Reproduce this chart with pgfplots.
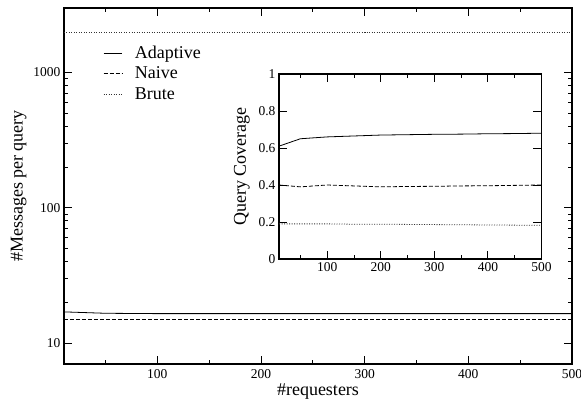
\documentclass[border=0pt]{standalone}
\usepackage{fontspec}
\setmainfont{Liberation Serif}
\usepackage{pgfplots}
\pgfplotsset{compat=1.18}

\pgfplotstableread{
x    adaptive naive brute
10   17.0     15.0  1970
50   16.6     15.0  1970
100  16.5     15.0  1970
150  16.5     15.0  1970
200  16.5     15.0  1970
250  16.5     15.0  1970
300  16.5     15.0  1970
350  16.5     15.0  1970
400  16.5     15.0  1970
450  16.5     15.0  1970
500  16.5     15.0  1970
}\msgs

\pgfplotstableread{
x    adaptive naive brute
10   0.61     0.400 0.190
50   0.650    0.390 0.190
100  0.660    0.400 0.190
150  0.665    0.395 0.188
200  0.670    0.390 0.188
250  0.672    0.392 0.187
300  0.674    0.393 0.186
350  0.675    0.395 0.185
400  0.677    0.396 0.184
450  0.678    0.398 0.183
500  0.680    0.400 0.182
}\cover

\pgfplotsset{
  every axis/.append style={
    /pgf/number format/assume math mode=true,
    tick label style={font=\fontsize{13.5}{16}\selectfont},
    label style={font=\fontsize{18}{21}\selectfont},
    tick align=inside,
    major tick length=8pt,
    minor tick length=4pt,
    axis line style={line width=1.3pt},
    every tick/.style={black, line width=0.9pt},
  },
}

\begin{document}
\begin{tikzpicture}
\begin{axis}[
  name=main,
  scale only axis,
  width=508pt, height=356pt,
  ymode=log,
  xmin=10, xmax=500,
  ymin=7, ymax=3000,
  xtick={100,200,300,400,500},
  minor xtick={50,150,250,350,450},
  ytick={10,100,1000},
  yticklabels={10,100,1000},
  xlabel={\#requesters},
  ylabel={\#Messages per query},
  xticklabel style={yshift=-2pt},
  xlabel style={yshift=2pt},
  legend style={draw=none, fill=none, at={(0.071,0.905)}, anchor=north west,
    row sep=3pt, column sep=10pt, font=\fontsize{18}{21}\selectfont},
  legend cell align=left,
  legend image post style={xscale=1.1},
]
\addplot[black, line width=0.8pt] table[x=x, y=adaptive] {\msgs};
\addlegendentry{Adaptive}
\addplot[black, line width=0.8pt, dash pattern=on 4pt off 2pt] table[x=x, y=naive] {\msgs};
\addlegendentry{Naive}
\addplot[black!80, line width=0.8pt, dash pattern=on 1pt off 1.5pt] table[x=x, y=brute] {\msgs};
\addlegendentry{Brute}
\end{axis}

\begin{axis}[
  at={(215pt,105pt)}, anchor=south west,
  scale only axis,
  width=262.5pt, height=185pt,
  axis background/.style={fill=white},
  xmin=10, xmax=500,
  ymin=0, ymax=1,
  xtick={100,200,300,400,500},
  minor xtick={50,150,250,350,450},
  ytick={0,0.2,0.4,0.6,0.8,1},
  yticklabels={0,0.2,0.4,0.6,0.8,1},
  xticklabels={100,200,300,400,500},
  ylabel={Query Coverage},
  ylabel style={yshift=2pt},
]
\addplot[black, line width=0.8pt] table[x=x, y=adaptive] {\cover};
\addplot[black, line width=0.8pt, dash pattern=on 4pt off 2pt] table[x=x, y=naive] {\cover};
\addplot[black!80, line width=0.8pt, dash pattern=on 1pt off 1.5pt] table[x=x, y=brute] {\cover};
\end{axis}
\pgfresetboundingbox
\path (-64pt,-36pt) rectangle (517pt,364pt);
\end{tikzpicture}
\end{document}
